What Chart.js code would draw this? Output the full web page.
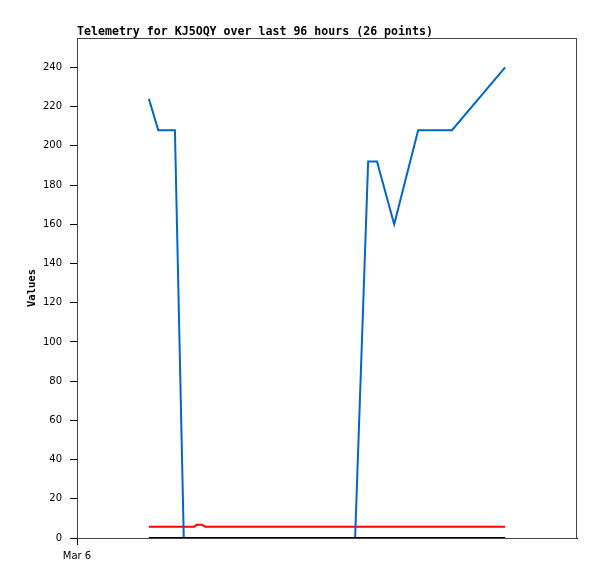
<!DOCTYPE html>
<html>
<head>
<meta charset="utf-8">
<script src="https://cdn.jsdelivr.net/npm/chart.js@4"></script>
<style>
  html, body { margin: 0; padding: 0; background: #fff; }
  #wrap { width: 597px; height: 579px; }
</style>
</head>
<body>
<div id="wrap"><canvas id="telemetryChart" width="597" height="579"></canvas></div>
<script>
// hours since the left edge of the window (Mar 6)
const hours = [13.8, 15.6, 18.8, 20.5, 22.5, 23.0, 24.0, 24.6, 26.5, 29.4, 32.3, 35.1, 38.0,
               40.9, 43.8, 46.7, 49.5, 51.5, 52.4, 53.4, 55.9, 57.6, 60.9, 65.5, 72.0, 82.2];
const blueValues = [224, 208, 208, 0, 0, 0, 0, 0, 0, 0, 0, 0, 0,
                    0, 0, 0, 0, 0, 0, 0, 192, 192, 160, 208, 208, 240];
const redValues = [5.8, 5.8, 5.8, 5.8, 5.8, 6.8, 6.8, 5.8, 5.8, 5.8, 5.8, 5.8, 5.8,
                   5.8, 5.8, 5.8, 5.8, 5.8, 5.8, 5.8, 5.8, 5.8, 5.8, 5.8, 5.8, 5.8];
const blackValues = [0, 0, 0, 0, 0, 0, 0, 0, 0, 0, 0, 0, 0,
                     0, 0, 0, 0, 0, 0, 0, 0, 0, 0, 0, 0, 0];
const xTickLabels = ['Mar 6'];

const toPoints = vals => vals.map((v, i) => ({ x: hours[i], y: v }));

// grey frame round the plot area
const framePlugin = {
    id: 'frame',
    beforeDatasetsDraw(chart) {
        const a = chart.chartArea;
        const ctx = chart.ctx;
        ctx.save();
        ctx.strokeStyle = '#444';
        ctx.lineWidth = 1;
        ctx.strokeRect(a.left + 0.5, a.top + 0.5, a.right - a.left - 1, a.bottom - a.top);
        ctx.restore();
    }
};

const ctx = document.getElementById('telemetryChart').getContext('2d');
const chart = new Chart(ctx, {
    type: 'line',
    data: {
        datasets: [
            {
                label: 'black',
                data: toPoints(blackValues),
                borderColor: '#000000',
                borderWidth: 2
            },
            {
                label: 'blue',
                data: toPoints(blueValues),
                borderColor: '#0066cc',
                borderWidth: 2
            },
            {
                label: 'red',
                data: toPoints(redValues),
                borderColor: '#ff0000',
                borderWidth: 2
            }
        ]
    },
    plugins: [framePlugin],
    options: {
        responsive: false,
        animation: false,
        elements: { point: { radius: 0 }, line: { tension: 0 } },
        layout: { padding: { left: 0, right: 20, top: 0, bottom: 0 } },
        plugins: {
            legend: { display: false },
            tooltip: { enabled: false },
            title: {
                display: true,
                text: 'Telemetry for KJ5OQY over last 96 hours (26 points)',
                align: 'start',
                fullSize: false,
                color: '#000',
                font: { family: 'DejaVu Sans Mono', size: 11.6, weight: 'bold', lineHeight: 1 },
                padding: { top: 26, bottom: 0.4 }
            }
        },
        scales: {
            x: {
                type: 'linear',
                min: 0,
                max: 96,
                afterBuildTicks: scale => { scale.ticks = [{ value: 0 }]; },
                afterFit: scale => { scale.height = 41; },
                ticks: {
                    color: '#000',
                    font: { family: 'DejaVu Sans', size: 10 },
                    padding: 5,
                    maxRotation: 0,
                    autoSkip: false,
                    callback: (v, i) => xTickLabels[i]
                },
                grid: { drawOnChartArea: false, drawTicks: true, tickLength: 7, color: '#000' },
                border: { color: '#000' }
            },
            y: {
                min: 0,
                max: 255,
                afterBuildTicks: scale => {
                    const t = [];
                    for (let v = 0; v <= 240; v += 20) t.push({ value: v });
                    scale.ticks = t;
                },
                afterFit: scale => { scale.width = 77; },
                ticks: {
                    color: '#000',
                    font: { family: 'DejaVu Sans', size: 10 },
                    padding: 8
                },
                grid: { drawOnChartArea: false, drawTicks: true, tickLength: 7, color: '#000' },
                border: { color: '#000' },
                title: {
                    display: true,
                    text: 'Values',
                    color: '#000',
                    font: { family: 'DejaVu Sans Mono', size: 10.5, weight: 'bold' },
                    padding: { top: 26, bottom: 0 }
                }
            }
        }
    }
});
</script>
</body>
</html>
